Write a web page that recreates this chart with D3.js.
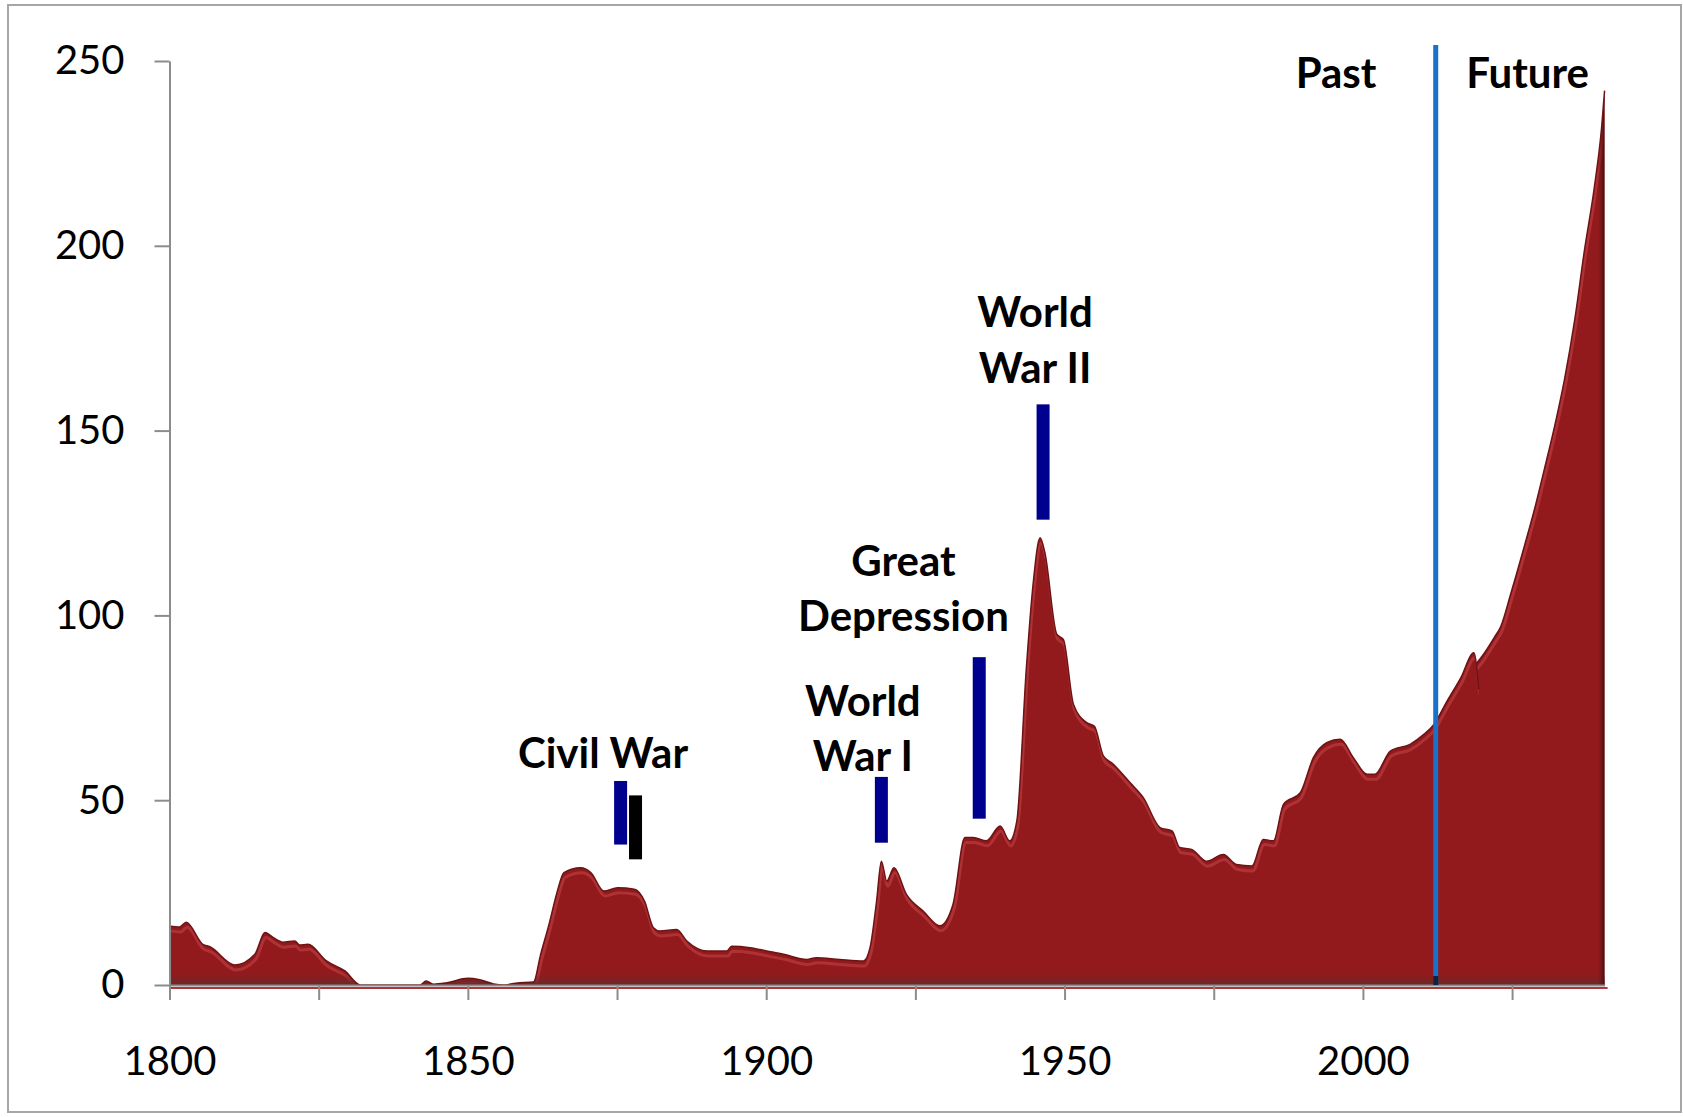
<!DOCTYPE html>
<html>
<head>
<meta charset="utf-8">
<script src="https://cdn.jsdelivr.net/npm/d3@7"></script>
<style>
  body { margin: 0; background: #fff; }
  text { font-family: Lato, "Open Sans", sans-serif; }
  .axis path, .axis line { stroke: #8c8c8c; stroke-width: 2; }
  .axis text { font-size: 40px; fill: #000; }
  .label { font-size: 42px; font-weight: bold; fill: #000; }
</style>
</head>
<body>
<div id="chart"></div>
<script>
/* Debt as a share of GDP, 1800 - 2040. */
let histYears = [1800, 1801.7, 1802.8, 1805.6, 1806.7, 1811, 1814.3, 1816, 1817.4, 1819,
    1821, 1821.8, 1823.2, 1826.3, 1829.4, 1832, 1842, 1843, 1844.3, 1846.5,
    1850, 1852, 1854.3, 1856, 1858, 1861, 1862.2, 1863.6, 1865, 1866.1,
    1868.9, 1870.6, 1872.8, 1875.1, 1877.9, 1879.6, 1881.1, 1882.2, 1885, 1886.7,
    1890.1, 1893.4, 1894.2, 1897.3, 1900.1, 1902.9, 1906.8, 1908.4, 1912.3, 1916.3,
    1917.4, 1918.5, 1919.3, 1920.2, 1921.4, 1923.5, 1926.3, 1929.1, 1931.3, 1933.3,
    1934.7, 1936.9, 1939.2, 1940.8, 1942, 1943.6, 1944.7, 1945.9, 1946.7, 1948.7,
    1949.8, 1951.5, 1953.7, 1955, 1956.5, 1958, 1961, 1963.2, 1966, 1968,
    1969.3, 1971.3, 1973.8, 1976.6, 1978.8, 1981.4, 1983.3, 1985, 1986.7, 1989.5,
    1991.7, 1994, 1996.2, 1998.4, 2000.7, 2002, 2004.6, 2007.9, 2010.2, 2011.9,
    2014.1, 2016.4, 2018.6, 2019.4];
let histValues = [16, 15.7, 17, 11, 10.4, 5.4, 8.3, 14.2, 12.8, 11.6,
    11.9, 10.8, 11, 6.5, 3.8, 0, 0, 1.1, 0.2, 0.6,
    1.8, 1.4, 0.3, 0, 0.5, 0.8, 8.3, 16.4, 25.4, 30.4,
    31.7, 30.4, 25.4, 26.3, 25.9, 22.7, 15.5, 14.6, 15, 11.9,
    9.2, 9.2, 10.5, 10.1, 9.2, 8.3, 6.9, 7.4, 6.9, 6.5,
    10.1, 22.7, 33.5, 28.1, 31.7, 24.5, 20, 16, 21.8, 39.9,
    39.9, 39, 43, 39, 44.4, 85.8, 108, 121, 117, 94.9,
    93.5, 75.9, 71, 70, 62, 60, 54.7, 50.7, 42.6, 41.7,
    37.2, 36.7, 33.5, 35.3, 32.6, 32.2, 39.4, 39, 48.9, 52,
    61.5, 65.6, 66.5, 61.5, 57, 57, 63.3, 65.1, 67.8, 70.5,
    76.8, 83.1, 89.9, 80];

/* The projected path from 2012 on. */
let projYears = [2012, 2014, 2016, 2018, 2020, 2022, 2023.1, 2024.8, 2027.1, 2028.8,
    2030.4, 2032.1, 2033.8, 2035.5, 2037.1, 2038.8, 2040, 2040.5];
let projValues = [70.5, 76, 81, 85, 89, 94, 97, 106, 119, 129,
    139.5, 151, 164, 180, 198.5, 216, 232, 242];

/* Axis ticks. */
let yTicks = [0, 50, 100, 150, 200, 250];
let xTicks = [1800, 1825, 1850, 1875, 1900, 1925, 1950, 1975, 2000, 2025];
let xLabelled = [1800, 1850, 1900, 1950, 2000];

/* Event markers: [year, from, to, kind]. */
let eventBars = [
    [1875.6, 38, 55.2, "war"],
    [1878.1, 34, 51.3, "end"],
    [1919.3, 38.5, 56.3, "war"],
    [1935.7, 45, 88.7, "war"],
    [1946.4, 125.9, 157.1, "war"]
];

/* Event labels: [lines, year, value of first baseline]. */
let eventLabels = [
    [["Civil War"], 1872.65, 58.7],
    [["World", "War I"], 1916.2, 72.8],
    [["Great", "Depression"], 1923.0, 110.7],
    [["World", "War II"], 1945.05, 178],
    [["Past"], 1995.5, 242.7],
    [["Future"], 2027.6, 242.7]
];

/* Past / future divider. */
let dividerYear = 2012.2;
let dividerRange = [0, 254.3];


/* Physical layout. */
let width = 1683, height = 1117;
let x0 = 169.5, x1 = 1601.6, yTop = 61, yBottom = 985;

let xscale = d3.scaleLinear().domain([1800, 2040]).range([x0, x1]);
let yscale = d3.scaleLinear().domain([0, 250]).range([yBottom, yTop]);

let svg = d3.select("#chart").append("svg")
    .attr("width", width)
    .attr("height", height);

/* Thin grey frame round the whole picture. */
svg.append("rect")
    .attr("x", 8).attr("y", 5)
    .attr("width", 1673).attr("height", 1107)
    .attr("fill", "none")
    .attr("stroke", "#a6a6a6")
    .attr("stroke-width", 2);

let hist = d3.zip(histYears, histValues);
let proj = d3.zip(projYears, projValues);

let defs = svg.append("defs");
let bottomShade = defs.append("linearGradient")
    .attr("id", "bottom-shade")
    .attr("x1", 0).attr("y1", 0).attr("x2", 0).attr("y2", 1);
bottomShade.append("stop").attr("offset", "0%").attr("stop-color", "#7a2224").attr("stop-opacity", 0);
bottomShade.append("stop").attr("offset", "100%").attr("stop-color", "#6a2a2c").attr("stop-opacity", 1);
let rightShade = defs.append("linearGradient")
    .attr("id", "right-shade")
    .attr("x1", 0).attr("y1", 0).attr("x2", 1).attr("y2", 0);
rightShade.append("stop").attr("offset", "0%").attr("stop-color", "#921a1c").attr("stop-opacity", 0);
rightShade.append("stop").attr("offset", "100%").attr("stop-color", "#3a1010").attr("stop-opacity", 1);

/* Red floor strip just under the axis line. */
svg.append("line")
    .attr("x1", x0).attr("x2", xscale(2040.5) + 3)
    .attr("y1", yBottom + 3).attr("y2", yBottom + 3)
    .attr("stroke", "#a8383a")
    .attr("stroke-width", 2);

/* Draw one of the two filled series with a bevelled top edge. */
function drawSeries(data, id, curve) {
    let area = d3.area()
        .curve(curve)
        .x(d => xscale(d[0]))
        .y0(yBottom)
        .y1(d => yscale(d[1]));
    let line = d3.line()
        .curve(curve)
        .x(d => xscale(d[0]))
        .y(d => yscale(d[1]));
    defs.append("clipPath").attr("id", "clip-" + id)
        .append("path").attr("d", area(data));
    let g = svg.append("g");
    g.append("path")
        .attr("d", area(data))
        .attr("fill", "#921a1c");
    let inner = g.append("g").attr("clip-path", "url(#clip-" + id + ")");
    /* Light highlight a few pixels inside the top edge. */
    inner.append("path")
        .attr("d", line(data))
        .attr("transform", "translate(1, 5)")
        .attr("fill", "none")
        .attr("stroke", "#c5474a")
        .attr("stroke-width", 3)
        .attr("stroke-opacity", 0.55);
    /* Darker band along the base. */
    inner.append("rect")
        .attr("x", x0).attr("y", yBottom - 12)
        .attr("width", x1 - x0 + 20).attr("height", 12)
        .attr("fill", "url(#bottom-shade)");
    g.append("path")
        .attr("d", line(data))
        .attr("fill", "none")
        .attr("stroke", "#6e1214")
        .attr("stroke-width", 1.5);
    return inner;
}

let projInner = drawSeries(proj, "proj", d3.curveMonotoneX);
drawSeries(hist, "hist", d3.curveMonotoneX);

/* Dark depth shading on the right end of the projection. */
projInner.append("rect")
    .attr("x", xscale(2040.5) - 8).attr("y", yTop)
    .attr("width", 8).attr("height", yBottom - yTop)
    .attr("fill", "url(#right-shade)");

/* Axes. */
let yaxis = d3.axisLeft(yscale)
    .tickValues(yTicks)
    .tickSize(15)
    .tickSizeOuter(0)
    .tickPadding(30);
svg.append("g")
    .attr("class", "axis")
    .attr("transform", "translate(" + x0 + ", 0)")
    .call(yaxis);

let xaxis = d3.axisBottom(d3.scaleLinear().domain([1800, 2040.5]).range([x0, xscale(2040.5)]))
    .tickValues(xTicks)
    .tickSize(15)
    .tickSizeOuter(0)
    .tickPadding(47)
    .tickFormat(d => xLabelled.includes(d) ? String(d) : "");
svg.append("g")
    .attr("class", "axis")
    .attr("transform", "translate(0, " + yBottom + ")")
    .call(xaxis);

/* Event markers. */
svg.selectAll("rect.event")
    .data(eventBars)
    .enter()
    .append("rect")
        .attr("class", "event")
        .attr("x", d => xscale(d[0]) - 6.5)
        .attr("y", d => yscale(d[2]))
        .attr("width", 13)
        .attr("height", d => yscale(d[1]) - yscale(d[2]))
        .attr("fill", d => d[3] == "war" ? "#00008e" : "#000");

/* Past / future divider. */
svg.append("line")
    .attr("x1", xscale(dividerYear)).attr("x2", xscale(dividerYear))
    .attr("y1", yscale(dividerRange[1])).attr("y2", yscale(dividerRange[0]))
    .attr("stroke", "#1872c9")
    .attr("stroke-width", 5);
svg.append("line")
    .attr("x1", xscale(dividerYear)).attr("x2", xscale(dividerYear))
    .attr("y1", yscale(dividerRange[0]) - 9).attr("y2", yscale(dividerRange[0]))
    .attr("stroke", "#0b2540")
    .attr("stroke-width", 5);

/* Labels. */
let labels = svg.selectAll("text.label")
    .data(eventLabels)
    .enter()
    .append("text")
        .attr("class", "label")
        .attr("text-anchor", "middle")
        .attr("x", d => xscale(d[1]))
        .attr("y", d => yscale(d[2]));
labels.selectAll("tspan")
    .data(d => d[0].map(t => [t, xscale(d[1])]))
    .enter()
    .append("tspan")
        .attr("x", d => d[1])
        .attr("dy", (d, i) => i == 0 ? 0 : 55.5)
        .text(d => d[0]);
</script>
</body>
</html>
